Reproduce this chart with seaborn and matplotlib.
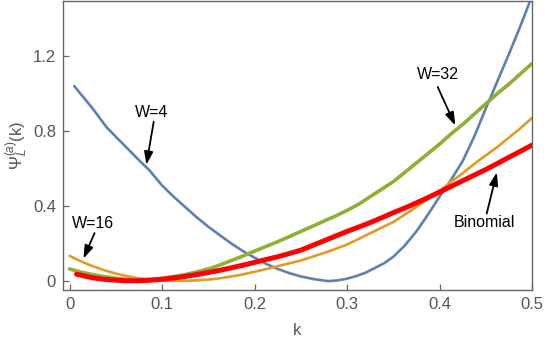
import matplotlib
matplotlib.use("Agg")
import matplotlib.pyplot as plt
import pandas as pd
import seaborn as sns

# ---------------------------------------------------------------- data
K_W4 = [0.005, 0.015, 0.025, 0.04, 0.05, 0.06, 0.075, 0.0865, 0.1, 0.1125,
        0.125, 0.1375, 0.15, 0.1625, 0.175, 0.1875, 0.2, 0.2125, 0.225, 0.2375,
        0.25, 0.265, 0.28, 0.29, 0.3, 0.31, 0.32, 0.33, 0.34, 0.35, 0.3625,
        0.375, 0.3875, 0.4, 0.4125, 0.425, 0.4375, 0.45, 0.4625, 0.475, 0.4875,
        0.5]
PSI_W4 = [1.04, 0.98, 0.92, 0.82, 0.77, 0.72, 0.645, 0.59, 0.51, 0.45, 0.395,
          0.34, 0.29, 0.245, 0.20, 0.16, 0.125, 0.092, 0.065, 0.043, 0.025,
          0.01, 0.0, 0.004, 0.013, 0.027, 0.045, 0.07, 0.095, 0.13, 0.19,
          0.265, 0.355, 0.45, 0.54, 0.64, 0.77, 0.92, 1.065, 1.21, 1.36, 1.52]

K_W16 = [0.0, 0.0125, 0.025, 0.0375, 0.05, 0.0625, 0.075, 0.0875, 0.1, 0.1125,
         0.125, 0.1375, 0.15, 0.1625, 0.175, 0.1875, 0.2, 0.2125, 0.225,
         0.2375, 0.25, 0.2625, 0.275, 0.2875, 0.3, 0.3125, 0.325, 0.3375, 0.35,
         0.3625, 0.375, 0.3875, 0.4, 0.4125, 0.425, 0.4375, 0.45, 0.4625, 0.475,
         0.4875, 0.5]
PSI_W16 = [0.135, 0.105, 0.08, 0.058, 0.04, 0.026, 0.015, 0.008, 0.004, 0.002,
           0.002, 0.004, 0.008, 0.015, 0.025, 0.036, 0.05, 0.064, 0.08, 0.095,
           0.11, 0.13, 0.15, 0.172, 0.195, 0.225, 0.255, 0.285, 0.315, 0.355,
           0.395, 0.44, 0.48, 0.53, 0.575, 0.625, 0.67, 0.715, 0.765, 0.815,
           0.87]

K_W32 = K_W16
PSI_W32 = [0.065, 0.048, 0.035, 0.024, 0.015, 0.009, 0.007, 0.009, 0.015,
           0.024, 0.035, 0.049, 0.065, 0.086, 0.11, 0.134, 0.16, 0.185, 0.21,
           0.237, 0.265, 0.292, 0.32, 0.347, 0.377, 0.41, 0.45, 0.49, 0.53,
           0.58, 0.63, 0.68, 0.73, 0.785, 0.835, 0.89, 0.945, 1.0, 1.05, 1.105,
           1.16]

K_BIN = [0.0075, 0.0175, 0.025, 0.0375, 0.05, 0.0625, 0.075, 0.0875, 0.1,
         0.1125, 0.125, 0.1375, 0.15, 0.1625, 0.175, 0.1875, 0.2, 0.2125, 0.225,
         0.2375, 0.25, 0.2625, 0.275, 0.2875, 0.3, 0.3125, 0.325, 0.3375, 0.35,
         0.3625, 0.375, 0.3875, 0.4, 0.4125, 0.425, 0.4375, 0.45, 0.4625, 0.475,
         0.4875, 0.5]
PSI_BIN = [0.037, 0.026, 0.018, 0.01, 0.005, 0.002, 0.002, 0.005, 0.01, 0.017,
           0.025, 0.035, 0.046, 0.058, 0.071, 0.085, 0.10, 0.115, 0.13, 0.147,
           0.165, 0.19, 0.215, 0.24, 0.265, 0.288, 0.312, 0.338, 0.365, 0.39,
           0.417, 0.445, 0.475, 0.505, 0.535, 0.565, 0.595, 0.627, 0.66, 0.692,
           0.725]

# label text, text position, arrow tail, arrow head
LABELS = [
    ("W=4", (0.0886, 0.90), (0.091, 0.85), (0.083, 0.62)),
    ("W=16", (0.025, 0.305), (0.027, 0.256), (0.015, 0.12)),
    ("W=32", (0.398, 1.10), (0.398, 1.035), (0.417, 0.83)),
    ("Binomial", (0.449, 0.31), (0.451, 0.36), (0.462, 0.58)),
]

SERIES = [
    ("W=4", K_W4, PSI_W4, "#5E81B5", 1.9),
    ("W=16", K_W16, PSI_W16, "#E19C24", 1.9),
    ("W=32", K_W32, PSI_W32, "#8FB032", 2.6),
    ("Binomial", K_BIN, PSI_BIN, "#FF0000", 3.6),
]


def main() -> None:
    sns.set_style("ticks")
    plt.rcParams["font.family"] = ["Liberation Sans", "DejaVu Sans"]
    plt.rcParams["mathtext.fontset"] = "custom"
    plt.rcParams["mathtext.rm"] = "Liberation Sans"
    plt.rcParams["mathtext.it"] = "Liberation Sans:italic"

    fig = plt.figure(figsize=(5.47, 3.45), dpi=100)
    ax = fig.add_axes([0.115, 0.159, 0.8576, 0.838])

    for name, k, psi, color, lw in SERIES:
        df = pd.DataFrame({"k": k, "psi": psi})
        sns.lineplot(data=df, x="k", y="psi", ax=ax, color=color, linewidth=lw,
                     sort=False, estimator=None)

    for text, (tx, ty), tail, head in LABELS:
        ax.text(tx, ty, text, ha="center", va="center", fontsize=11.5,
                color="black")
        ax.annotate("", xy=head, xytext=tail,
                    arrowprops=dict(arrowstyle="-|>,head_length=0.65,head_width=0.22",
                                    color="black", lw=1.3, mutation_scale=12,
                                    shrinkA=0, shrinkB=0))

    ax.set_xlim(-0.0072, 0.5)
    ax.set_ylim(-0.048, 1.493)
    ax.set_xticks([0, 0.1, 0.2, 0.3, 0.4, 0.5])
    ax.set_xticklabels(["0", "0.1", "0.2", "0.3", "0.4", "0.5"])
    ax.set_yticks([0, 0.4, 0.8, 1.2])
    ax.set_yticklabels(["0", "0.4", "0.8", "1.2"])
    ax.tick_params(direction="in", length=4, width=0.9, color="#666666",
                   labelsize=12, labelcolor="#555555", pad=5)
    for sp in ax.spines.values():
        sp.set_visible(True)
        sp.set_color("#666666")
        sp.set_linewidth(1.0)

    ax.set_xlabel("k", fontsize=12, color="#555555", labelpad=8)
    ax.set_ylabel(r"$\Psi_{L}^{(a)}$(k)", fontsize=12, color="#555555",
                  labelpad=2)

    fig.savefig("out.png", dpi=100)
    plt.close(fig)


if __name__ == "__main__":
    main()
